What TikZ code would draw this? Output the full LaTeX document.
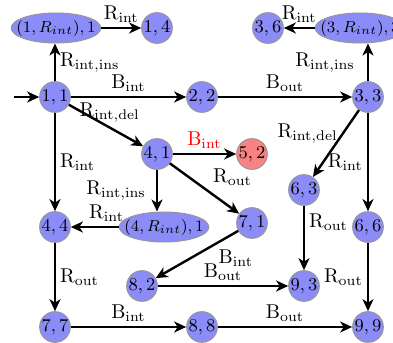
\documentclass[tikz,border=0pt]{standalone}
\usepackage{xcolor}
\usepackage{tikz}
\usetikzlibrary{arrows.meta,shapes.geometric}
\definecolor{ink}{RGB}{0,0,0}
\definecolor{statefill}{RGB}{140,140,248}
\definecolor{deadfill}{RGB}{248,130,130}
\definecolor{statestroke}{RGB}{150,150,150}
\def\CxA{55}
\def\CxB{157}
\def\CxC{202}
\def\CxD{252}
\def\CxE{304}
\def\CxF{368}
\def\RyA{28}
\def\RyB{97}
\def\RyC{154}
\def\RyD{190}
\def\RyE{227}
\def\RyF{286}
\def\RyG{327}
\tikzset{
  state/.style={
    circle, draw=statestroke, fill=#1, line width=0.5pt,
    minimum size=15pt, inner sep=0pt,
    font=\fontsize{9}{11}\selectfont,
  },
  state/.default=statefill,
  wide/.style={
    ellipse, draw=statestroke, fill=statefill, line width=0.5pt,
    minimum width=39pt, minimum height=15pt, inner xsep=-4pt, inner ysep=0pt,
    font=\fontsize{8.3}{10}\selectfont,
  },
  arr/.style={-{Stealth[length=6pt,width=5.5pt,inset=1.8pt]}, line width=1.2pt, draw=ink},
  lbl/.style={font=\fontsize{10}{12}\selectfont, inner sep=2pt},
}

\begin{document}
\begin{tikzpicture}[x=0.5pt,y=-0.5pt]
  \useasboundingbox (0,0) rectangle (393,343);

  \node[wide] (w11) at (56,\RyA) {$(1,R_{int}),1$};
  \node[state] (s14) at (\CxB,\RyA) {$1,4$};
  \node[state] (s36) at (268,\RyA) {$3,6$};
  \node[wide] (w33) at (360,\RyA) {$(3,R_{int}),3$};

  \coordinate (start) at (14,\RyB);
  \node[state] (s11) at (\CxA,\RyB) {$1,1$};
  \node[state] (s22) at (\CxC,\RyB) {$2,2$};
  \node[state] (s33) at (\CxF,\RyB) {$3,3$};

  \node[state] (s41) at (\CxB,\RyC) {$4,1$};
  \node[state=deadfill] (s52) at (\CxD,\RyC) {$5,2$};
  \node[state] (s63) at (\CxE,\RyD) {$6,3$};

  \node[state] (s44) at (\CxA,\RyE) {$4,4$};
  \node[wide] (w41) at (164,\RyE) {$(4,R_{int}),1$};
  \node[state] (s71) at (\CxD,223) {$7,1$};
  \node[state] (s66) at (\CxF,\RyE) {$6,6$};

  \node[state] (s82) at (142,\RyF) {$8,2$};
  \node[state] (s93) at (\CxE,\RyF) {$9,3$};

  \node[state] (s77) at (\CxA,\RyG) {$7,7$};
  \node[state] (s88) at (\CxC,\RyG) {$8,8$};
  \node[state] (s99) at (\CxF,\RyG) {$9,9$};

  \draw[arr] (start) -- (s11);
  \draw[arr] (s11) -- node[lbl, right] {$\mathrm{R}_{\mathrm{int,ins}}$} (s11 |- w11.south);
  \draw[arr] (w11) -- node[lbl, above] {$\mathrm{R}_{\mathrm{int}}$} (s14);
  \draw[arr] (s11) -- node[lbl, above] {$\mathrm{B}_{\mathrm{int}}$} (s22);
  \draw[arr] (s22) -- node[lbl, above] {$\mathrm{B}_{\mathrm{out}}$} (s33);
  \draw[arr] (s33) -- node[lbl, left=4pt] {$\mathrm{R}_{\mathrm{int,ins}}$} (s33 |- w33.south);
  \draw[arr] (w33) -- node[lbl, above] {$\mathrm{R}_{\mathrm{int}}$} (s36);

  \draw[arr] (s11) -- node[lbl, pos=0.55, above] {$\mathrm{R}_{\mathrm{int,del}}$} (s41);
  \draw[arr] (s11) -- node[lbl, right] {$\mathrm{R}_{\mathrm{int}}$} (s44);
  \draw[arr] (s41) -- node[lbl, above, text=red] {$\mathrm{B}_{\mathrm{int}}$} (s52);
  \draw[arr] (s41) -- node[lbl, left=3pt] {$\mathrm{R}_{\mathrm{int,ins}}$} (s41 |- w41.north);
  \draw[arr] (w41) -- node[lbl, pos=0.25, above] {$\mathrm{R}_{\mathrm{int}}$} (s44);
  \draw[arr] (s41) -- node[lbl, pos=0.55, above right] {$\mathrm{R}_{\mathrm{out}}$} (s71);
  \draw[arr] (s71) -- node[lbl, pos=0.3, below right] {$\mathrm{B}_{\mathrm{int}}$} (s82);
  \draw[arr] (s82) -- node[lbl, above] {$\mathrm{B}_{\mathrm{out}}$} (s93);

  \draw[arr] (s33) -- node[lbl, pos=0.35, left] {$\mathrm{R}_{\mathrm{int,del}}$} (s63);
  \draw[arr] (s33) -- node[lbl, left] {$\mathrm{R}_{\mathrm{int}}$} (s66);
  \draw[arr] (s63) -- node[lbl, pos=0.25, right] {$\mathrm{R}_{\mathrm{out}}$} (s93);
  \draw[arr] (s66) -- node[lbl, left] {$\mathrm{R}_{\mathrm{out}}$} (s99);

  \draw[arr] (s44) -- node[lbl, right] {$\mathrm{R}_{\mathrm{out}}$} (s77);
  \draw[arr] (s77) -- node[lbl, above] {$\mathrm{B}_{\mathrm{int}}$} (s88);
  \draw[arr] (s88) -- node[lbl, above] {$\mathrm{B}_{\mathrm{out}}$} (s99);
\end{tikzpicture}
\end{document}
